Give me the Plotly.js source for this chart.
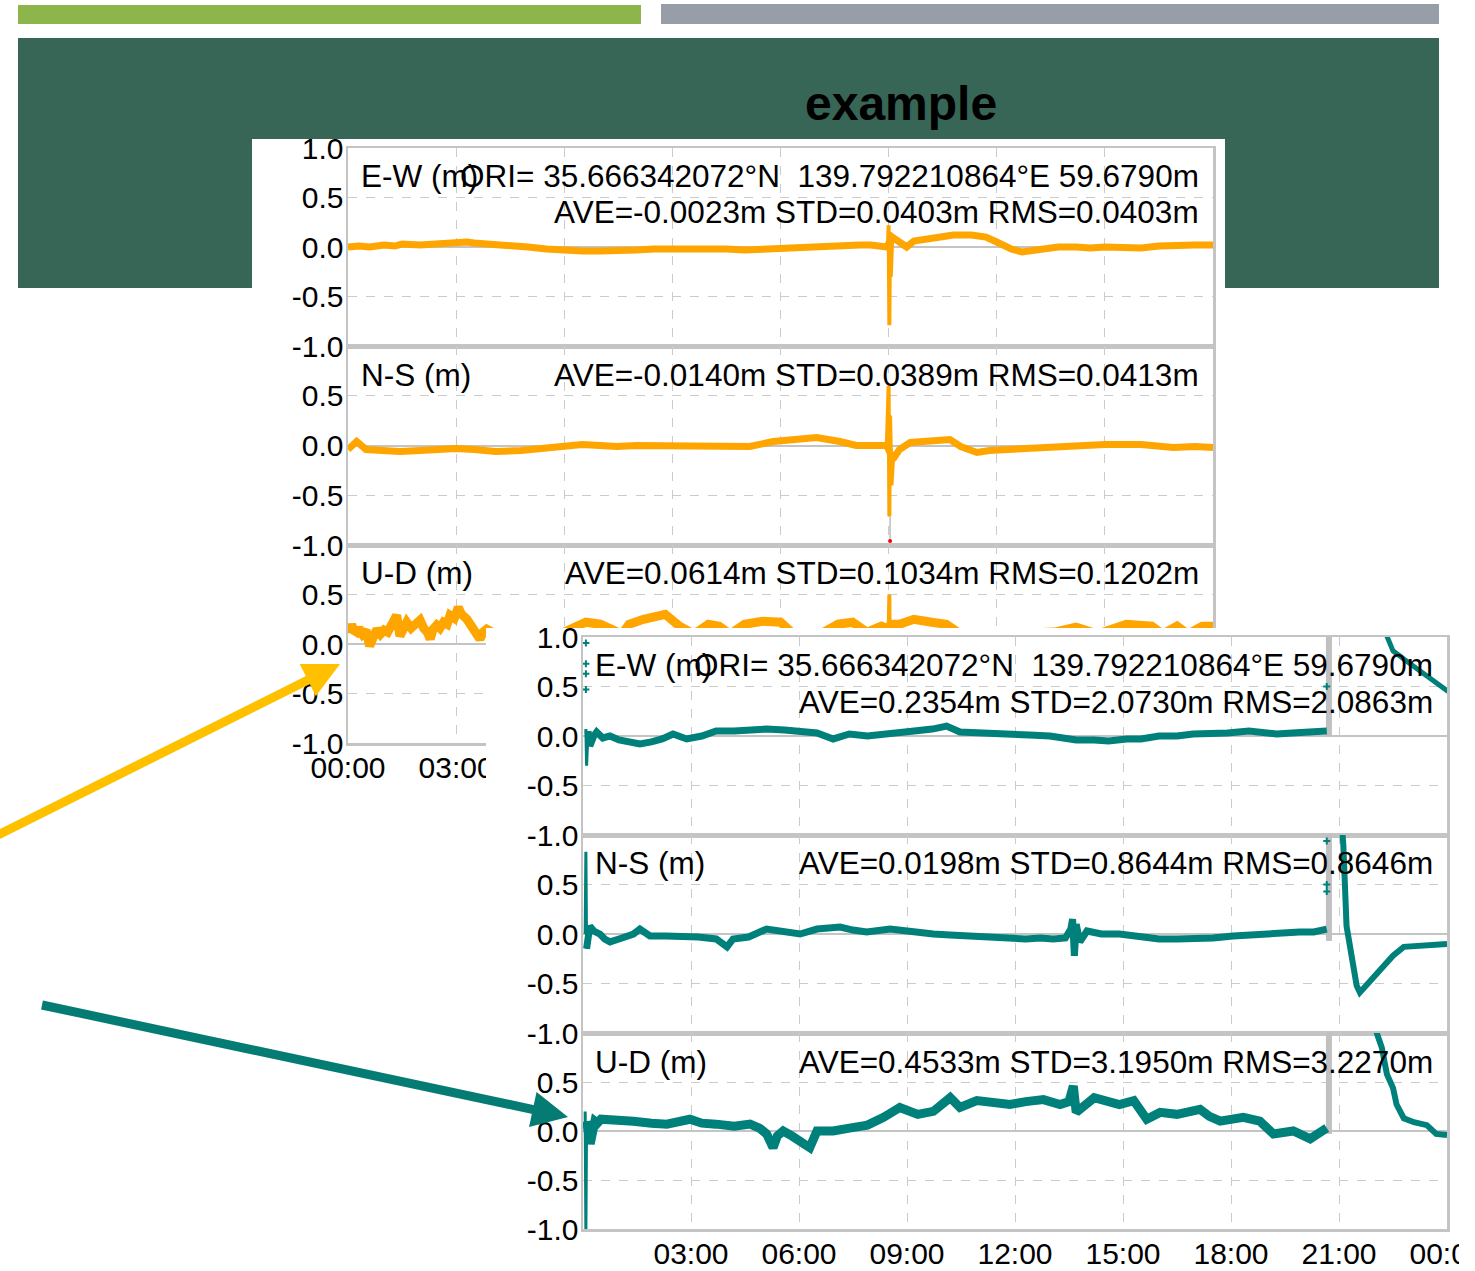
<!DOCTYPE html>
<html><head><meta charset="utf-8">
<script src="https://cdn.plot.ly/plotly-3.0.1.min.js"></script>
<style>html,body{margin:0;padding:0;background:#fff;}#chart{width:1475px;height:1271px;}</style>
</head><body><div id="chart"></div>
<script>
// ---------------- data ----------------
const tickHours = [0,3,6,9,12,15,18,21,24];
const tickLabels = ['00:00','03:00','06:00','09:00','12:00','15:00','18:00','21:00','00:00'];
const tealTickHours = [3,6,9,12,15,18,21,24];
const tealTickLabels = ['03:00','06:00','09:00','12:00','15:00','18:00','21:00','00:00'];
const yTickValsTop = [-1,-0.5,0,0.5,1];
const yTickTextTop = ['-1.0','-0.5','0.0','0.5','1.0'];
const yTickVals = [-1,-0.5,0,0.5];
const yTickText = ['-1.0','-0.5','0.0','0.5'];

// orange (first solution) E-W
const ewA_h = [0,0.3,0.6,1,1.3,1.5,2,2.3,2.5,2.8,3,3.3,3.5,4,4.5,5,5.5,6,6.3,6.5,7,7.5,7.8,8,8.5,9,9.5,10,10.5,11,11.5,12,12.5,13,13.5,13.9,14.2,14.5,14.95,15.1,15.3,15.5,15.7,16,16.4,16.8,17.3,17.7,18,18.4,18.7,19.2,19.7,20.2,20.6,21,21.5,22,22.5,22.9,23.5,24];
const ewA_v = [0.0,0.01,0.0,0.02,0.01,0.03,0.02,0.03,0.03,0.04,0.04,0.05,0.04,0.03,0.02,0.0,-0.02,-0.03,-0.05,-0.04,-0.04,-0.04,-0.03,-0.03,-0.02,-0.02,-0.01,-0.02,-0.02,-0.03,-0.02,-0.01,-0.01,0.01,0.02,0.03,0.02,0.02,0.0,0.1,0.05,0.0,0.06,0.08,0.1,0.12,0.12,0.1,0.05,-0.02,-0.05,-0.03,0.0,0.0,-0.01,0.0,0.0,-0.01,0.01,0.02,0.02,0.02];
const ewA_spikeH = [14.98,15.0,15.02,15.04,15.06,15.1];
const ewA_spikeV = [0.0,0.22,-0.79,0.15,-0.3,0.1];
// orange N-S
const nsA_h = [0,0.24,0.5,1,1.44,2,2.5,3,3.5,4.1,4.8,5.6,6.07,6.5,7,7.46,8,8.5,9.3,10,10.5,11.15,11.8,12.4,13,13.65,14.1,14.5,14.95,15.12,15.2,15.3,15.6,16,16.4,16.7,17,17.45,17.8,18.3,19,19.66,20.5,21,22,22.9,23.5,24];
const nsA_v = [-0.04,0.04,-0.04,-0.05,-0.06,-0.05,-0.04,-0.03,-0.04,-0.06,-0.05,-0.02,0.01,0.01,0.0,-0.01,0.0,0.0,0.0,0.0,-0.01,-0.01,0.04,0.06,0.08,0.04,0.0,0.0,0.0,-0.14,-0.08,-0.04,0.03,0.04,0.05,0.06,-0.01,-0.07,-0.05,-0.04,-0.02,0.0,0.0,0.01,0.01,-0.02,-0.01,-0.02];
const nsA_spikeH = [14.95,15.0,15.02,15.04,15.08,15.12];
const nsA_spikeV = [0.0,0.6,-0.71,0.3,-0.4,-0.14];
const nsA_gapH = [15.04,15.04];
const nsA_gapV = [-0.71,-0.96];
const nsA_outH = [15.04];
const nsA_outV = [-0.96];
// orange U-D
const udA_h = [0,0.05,0.1,0.15,0.24,0.3,0.4,0.5,0.6,0.7,0.8,0.9,1.0,1.1,1.2,1.3,1.35,1.44,1.55,1.63,1.75,1.85,2.0,2.1,2.2,2.28,2.36,2.46,2.55,2.65,2.75,2.83,2.95,3.06,3.15,3.3,3.4,3.5,3.58,3.66,3.75,3.85,4.0,4.5,5.0,5.5,6.0,6.6,7.0,7.6,7.8,8.2,8.5,8.8,9.2,9.6,10.0,10.3,10.6,11.0,11.5,12.0,12.3,13.0,13.6,14.0,14.4,14.8,15.0,15.06,15.3,15.7,16.2,16.6,17.0,17.5,18.0,19.0,19.6,20.2,20.8,21.6,22.0,22.3,22.6,23.0,23.3,23.7,24];
const udA_v = [0.19,0.12,0.2,0.14,0.12,0.16,0.1,0.14,-0.02,0.1,0.15,0.1,0.14,0.12,0.18,0.22,0.29,0.08,0.18,0.22,0.16,0.2,0.24,0.16,0.12,0.05,0.15,0.19,0.16,0.22,0.2,0.29,0.26,0.37,0.3,0.25,0.2,0.16,0.1,0.05,0.12,0.15,0.12,0.1,0.08,0.1,0.12,0.22,0.2,0.1,0.2,0.25,0.27,0.3,0.18,0.1,0.2,0.18,0.1,0.2,0.23,0.22,0.12,0.08,0.2,0.22,0.12,0.18,0.15,0.2,0.2,0.25,0.22,0.2,0.1,0.08,0.1,0.1,0.12,0.17,0.1,0.2,0.2,0.18,0.1,0.18,0.1,0.18,0.18];
const udA_spikeH = [15.0,15.02,15.04,15.06];
const udA_spikeV = [0.15,0.5,-0.6,0.2];

// teal (second solution) E-W
const ewB_h = [0.14,0.19,0.3,0.38,0.55,0.75,1.0,1.3,1.58,1.9,2.2,2.5,2.88,3.3,3.7,4.2,4.6,5.1,5.6,6.03,6.5,6.95,7.4,7.9,8.3,8.8,9.2,9.7,10.1,10.47,10.9,11.4,11.86,12.4,12.97,13.3,13.7,14.2,14.6,15.1,15.5,16.0,16.5,16.95,17.4,17.9,18.5,18.9,19.27,19.7,20.2,20.66];
const ewB_v = [0.05,-0.1,0.0,0.04,-0.02,0.0,-0.04,-0.06,-0.08,-0.06,-0.03,0.02,-0.03,0.0,0.05,0.05,0.06,0.07,0.06,0.05,0.03,-0.03,0.02,0.0,0.02,0.04,0.05,0.07,0.1,0.04,0.03,0.02,0.02,0.01,0.0,-0.02,-0.04,-0.04,-0.05,-0.03,-0.03,0.0,0.0,0.02,0.02,0.03,0.05,0.03,0.02,0.03,0.04,0.05];
const ewB_startH = [0.08,0.1,0.14];
const ewB_startV = [0.07,-0.3,0.05];
const ewB2_h = [22.25,22.5,22.9,23.33,23.7,24.03];
const ewB2_v = [1.08,0.86,0.75,0.63,0.53,0.45];
const ewB_ptsH = [0.08,0.08,0.08,0.08,20.66];
const ewB_ptsV = [0.94,0.73,0.63,0.47,0.5];
// teal N-S
const nsB_h = [0.1,0.19,0.3,0.47,0.6,0.75,1.0,1.4,1.58,1.86,2.3,2.78,3.2,3.7,4.0,4.17,4.6,5.1,5.6,6.03,6.5,7.14,7.5,7.88,8.53,9.1,9.73,10.2,10.66,11.2,11.8,12.3,12.7,13.06,13.4,13.55,13.6,13.65,13.7,13.8,14.0,14.4,14.9,15.4,16.0,16.5,16.9,17.5,18.06,18.6,19.27,19.9,20.3,20.66];
const nsB_v = [-0.15,0.08,0.03,0.0,-0.05,-0.08,-0.05,0.0,0.05,-0.02,-0.02,-0.02,-0.03,-0.05,-0.13,-0.05,-0.03,0.05,0.02,0.0,0.05,0.07,0.04,0.02,0.05,0.02,0.0,-0.01,-0.02,-0.02,-0.03,-0.05,-0.04,-0.05,-0.04,0.05,0.15,-0.22,0.1,-0.08,0.03,0.0,0.0,-0.02,-0.05,-0.05,-0.05,-0.04,-0.02,-0.01,0.02,0.02,0.02,0.05];
const nsB_startH = [0.06,0.08,0.1];
const nsB_startV = [0.0,0.83,-0.15];
const nsB2_h = [21.08,21.12,21.21,21.35,21.49,21.58,21.68,21.85,22.05,22.25,22.5,22.8,23.1,23.44,23.8,24.0];
const nsB2_v = [1.1,0.9,0.08,-0.25,-0.52,-0.59,-0.55,-0.47,-0.39,-0.3,-0.22,-0.13,-0.12,-0.11,-0.1,-0.1];
const nsB_ptsH = [20.66,20.66,20.66];
const nsB_ptsV = [0.94,0.5,0.43];
// teal U-D
const udB_h = [0.1,0.2,0.33,0.4,0.5,0.66,1.0,1.4,1.9,2.33,2.97,3.3,3.7,4.2,4.64,4.9,5.1,5.28,5.4,5.56,5.8,6.03,6.3,6.5,6.95,7.4,7.9,8.35,8.8,9.3,9.73,10.2,10.47,10.94,11.4,11.86,12.3,12.79,13.25,13.5,13.62,13.7,14.2,14.6,14.9,15.3,15.66,16.03,16.5,17.14,17.4,17.7,18.34,18.8,19.18,19.73,20.2,20.66];
const udB_v = [0.1,-0.13,0.1,0.08,0.12,0.12,0.1,0.1,0.08,0.07,0.12,0.08,0.07,0.05,0.07,0.03,-0.03,-0.17,-0.05,0.0,-0.05,-0.1,-0.17,0.0,0.0,0.03,0.06,0.14,0.24,0.17,0.2,0.34,0.24,0.31,0.28,0.27,0.3,0.32,0.27,0.3,0.46,0.19,0.34,0.3,0.27,0.31,0.12,0.19,0.17,0.22,0.15,0.1,0.14,0.1,-0.03,0.0,-0.08,0.03];
const udB_startH = [0.06,0.08,0.1];
const udB_startV = [0.2,-1.04,0.1];
const udB2_h = [22.0,22.05,22.19,22.33,22.5,22.6,22.8,23.08,23.44,23.7,24.0];
const udB2_v = [1.2,1.0,0.85,0.58,0.44,0.27,0.13,0.09,0.06,-0.03,-0.04];
// gap markers (grey bars)
const gapH = [20.72,20.72];
const gapEW = [1.0,0.0];
const gapNS = [1.0,-0.07];
const gapUD = [1.0,-0.03];

const panelLabels = ['E-W (m)','N-S (m)','U-D (m)'];
const oriText = 'ORI= 35.666342072°N  139.792210864°E 59.6790m';
const statsA = ['AVE=-0.0023m STD=0.0403m RMS=0.0403m','AVE=-0.0140m STD=0.0389m RMS=0.0413m','AVE=0.0614m STD=0.1034m RMS=0.1202m'];
const statsB = ['AVE=0.2354m STD=2.0730m RMS=2.0863m','AVE=0.0198m STD=0.8644m RMS=0.8646m','AVE=0.4533m STD=3.1950m RMS=3.2270m'];
const titleText = 'example';

// ---------------- layout helpers ----------------
const W = 1475, H = 1271;
const px = x => x / W;
const py = y => 1 - y / H;
const ORANGE = '#ffa500', TEAL = '#00807a', GRID = '#cbcbcb', FRAME = '#c4c4c4';
const FONT = 'Liberation Sans, Arial, sans-serif';
const tickFont = {family: FONT, size: 30, color: '#000'};

function xAx(dom, anchor, vals, texts, show) {
  return {domain: [px(dom[0]), px(dom[1])], anchor: anchor, range: [0, 24],
    tickmode: 'array', tickvals: vals, ticktext: texts, showticklabels: show,
    showgrid: true, gridcolor: GRID, griddash: 'dash', gridwidth: 1, zeroline: false,
    showline: true, mirror: true, linecolor: FRAME, linewidth: 2.5,
    ticks: '', ticklabelstandoff: -4, ticklabeloverflow: 'allow', tickfont: tickFont, fixedrange: true};
}
function yAx(dom, anchor, vals, texts) {
  return {domain: [py(dom[1]), py(dom[0])], anchor: anchor, range: [-1, 1],
    tickmode: 'array', tickvals: vals, ticktext: texts,
    showgrid: true, gridcolor: GRID, griddash: 'dash', gridwidth: 1,
    zeroline: true, zerolinecolor: FRAME, zerolinewidth: 2,
    showline: true, mirror: true, linecolor: FRAME, linewidth: 2.5,
    ticks: '', ticklabelstandoff: -4, ticklabeloverflow: 'allow', tickfont: tickFont, fixedrange: true};
}

const oX = [348, 1213];
const oY = [[148, 346], [346, 545], [545, 743]];
const tX = [583, 1447];
const tY = [[637, 835], [835, 1033], [1033, 1229]];

const layout = {
  width: W, height: H, margin: {l: 0, r: 0, t: 0, b: 0},
  paper_bgcolor: '#fff', plot_bgcolor: '#fff', showlegend: false,
  xaxis:  xAx(oX, 'y',  tickHours, tickLabels, false),
  xaxis2: xAx(oX, 'y2', tickHours, tickLabels, false),
  xaxis3: xAx(oX, 'y3', tickHours, tickLabels, true),
  yaxis:  yAx(oY[0], 'x',  yTickValsTop, yTickTextTop),
  yaxis2: yAx(oY[1], 'x2', yTickVals, yTickText),
  yaxis3: yAx(oY[2], 'x3', yTickVals, yTickText),
  // cover panel of the second screenshot
  xaxis4: {domain: [px(486), px(1459)], anchor: 'y4', visible: false, range: [0, 1], fixedrange: true},
  yaxis4: {domain: [0, py(628)], anchor: 'x4', visible: false, range: [0, 1], fixedrange: true},
  xaxis5: xAx(tX, 'y5', tealTickHours, tealTickLabels, false),
  xaxis6: xAx(tX, 'y6', tealTickHours, tealTickLabels, false),
  xaxis7: xAx(tX, 'y7', tealTickHours, tealTickLabels, true),
  yaxis5: yAx(tY[0], 'x5', yTickValsTop, yTickTextTop),
  yaxis6: yAx(tY[1], 'x6', yTickVals, yTickText),
  yaxis7: yAx(tY[2], 'x7', yTickVals, yTickText),
  shapes: [], annotations: []
};

function rect(x0, y0, x1, y1, color, layer) {
  layout.shapes.push({type: 'rect', xref: 'paper', yref: 'paper', x0: px(x0), x1: px(x1), y0: py(y1), y1: py(y0),
    fillcolor: color, line: {width: 0}, layer: layer});
}
rect(18, 5, 641, 24, '#8db54c', 'below');
rect(661, 4, 1439, 24, '#979ea8', 'below');
rect(18, 38, 1439, 288, '#376657', 'below');
rect(252, 139, 1225, 790, '#ffffff', 'below');
rect(252, 126, 1225, 139, '#376657', 'above');
rect(1459, 1232, 1475, 1271, '#ffffff', 'above');

function arrow(x0, y0, xt, yt, color, w) {
  const dx = xt - x0, dy = yt - y0, L = Math.hypot(dx, dy);
  const ux = dx / L, uy = dy / L, hl = 36, hw = 18;
  const bx = xt - ux * hl, by = yt - uy * hl;
  layout.shapes.push({type: 'line', xref: 'paper', yref: 'paper', layer: 'above',
    x0: px(x0), y0: py(y0), x1: px(bx + ux * 3), y1: py(by + uy * 3), line: {color: color, width: w}});
  const p1 = [bx - uy * hw, by + ux * hw], p2 = [bx + uy * hw, by - ux * hw];
  layout.shapes.push({type: 'path', xref: 'paper', yref: 'paper', layer: 'above',
    path: `M ${px(xt)} ${py(yt)} L ${px(p1[0])} ${py(p1[1])} L ${px(p2[0])} ${py(p2[1])} Z`,
    fillcolor: color, line: {width: 0}});
}
arrow(-4, 836, 340, 664, '#ffc000', 9);
arrow(42, 1005, 568, 1117, '#047b73', 9);

const annFont = {family: FONT, size: 31.5, color: '#000'};
function ann(text, x, y, anchor) {
  layout.annotations.push({text: text, xref: 'paper', yref: 'paper', x: px(x), y: py(y),
    xanchor: anchor, yanchor: 'middle', showarrow: false, font: annFont});
}
layout.annotations.push({text: '<b>' + titleText + '</b>', xref: 'paper', yref: 'paper', x: px(901), y: py(103),
  xanchor: 'center', yanchor: 'middle', showarrow: false, font: {family: FONT, size: 48, color: '#000'}});
const oRows = [176, 375, 573], tRows = [665, 863, 1062];
for (let i = 0; i < 3; i++) {
  ann(panelLabels[i], 359, oRows[i], 'left');
  ann(panelLabels[i], 593, tRows[i], 'left');
}
ann(oriText, 1201, 176, 'right');
ann(statsA[0], 1201, 212, 'right');
ann(statsA[1], 1201, 375, 'right');
ann(statsA[2], 1201, 573, 'right');
ann(oriText, 1435, 665, 'right');
ann(statsB[0], 1435, 702, 'right');
ann(statsB[1], 1435, 863, 'right');
ann(statsB[2], 1435, 1062, 'right');

// ---------------- traces ----------------
const lineTr = (x, y, xa, ya, color, w) => ({type: 'scatter', mode: 'lines', x: x, y: y, xaxis: xa, yaxis: ya,
  line: {color: color, width: w}, hoverinfo: 'skip'});
const ptsTr = (x, y, xa, ya, color, s) => ({type: 'scatter', mode: 'markers', x: x, y: y, xaxis: xa, yaxis: ya,
  marker: {color: color, size: s, symbol: 'cross-thin', line: {color: color, width: 2}}, hoverinfo: 'skip'});

const data = [
  lineTr(ewA_h, ewA_v, 'x', 'y', ORANGE, 7),
  lineTr(ewA_spikeH, ewA_spikeV, 'x', 'y', ORANGE, 4),
  lineTr(nsA_gapH, nsA_gapV, 'x2', 'y2', '#bdbdbd', 1.5),
  lineTr(nsA_h, nsA_v, 'x2', 'y2', ORANGE, 7),
  lineTr(nsA_spikeH, nsA_spikeV, 'x2', 'y2', ORANGE, 4),
  {type: 'scatter', mode: 'markers', x: nsA_outH, y: nsA_outV, xaxis: 'x2', yaxis: 'y2', marker: {color: '#ff0000', size: 4}, hoverinfo: 'skip'},
  lineTr(udA_h, udA_v, 'x3', 'y3', ORANGE, 9),
  lineTr(udA_spikeH, udA_spikeV, 'x3', 'y3', ORANGE, 4),
  {type: 'scatter', mode: 'lines', x: [null], y: [null], xaxis: 'x4', yaxis: 'y4', hoverinfo: 'skip'},
  lineTr(gapH, gapEW, 'x5', 'y5', '#c0c0c0', 6),
  lineTr(ewB_startH, ewB_startV, 'x5', 'y5', TEAL, 3),
  lineTr(ewB_h, ewB_v, 'x5', 'y5', TEAL, 7),
  lineTr(ewB2_h, ewB2_v, 'x5', 'y5', TEAL, 5),
  ptsTr(ewB_ptsH, ewB_ptsV, 'x5', 'y5', TEAL, 5),
  lineTr(gapH, gapNS, 'x6', 'y6', '#c0c0c0', 6),
  lineTr(nsB_startH, nsB_startV, 'x6', 'y6', TEAL, 3),
  lineTr(nsB_h, nsB_v, 'x6', 'y6', TEAL, 7),
  lineTr(nsB2_h, nsB2_v, 'x6', 'y6', TEAL, 6),
  ptsTr(nsB_ptsH, nsB_ptsV, 'x6', 'y6', TEAL, 5),
  lineTr(gapH, gapUD, 'x7', 'y7', '#c0c0c0', 6),
  lineTr(udB_startH, udB_startV, 'x7', 'y7', TEAL, 3),
  lineTr(udB_h, udB_v, 'x7', 'y7', TEAL, 9),
  lineTr(udB2_h, udB2_v, 'x7', 'y7', TEAL, 6)
];

Plotly.newPlot('chart', data, layout, {staticPlot: true, displayModeBar: false});
</script></body></html>
